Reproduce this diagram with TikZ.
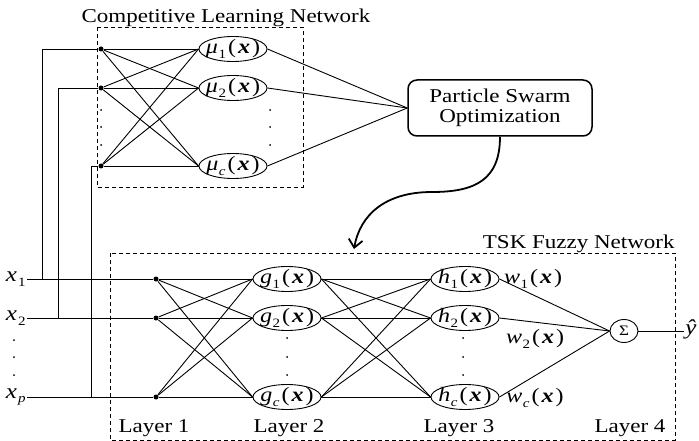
\documentclass[tikz,border=0pt]{standalone}
\usepackage{fontspec}
\setmainfont{Liberation Serif}
\usetikzlibrary{shapes.geometric,arrows.meta}
\newcommand\sq[1]{\scalebox{1}[0.85]{#1}}
\newcommand\sbs[1]{\raisebox{-0.45ex}{\fontsize{15}{15}\selectfont #1}}
\newcommand\fn[2]{\sq{\fontsize{24}{28}\selectfont\textit{#1}\kern0.5pt\sbs{#2}\kern2pt(\kern2pt\textbf{\textit{x}}\kern2pt)}}
\begin{document}
\begin{tikzpicture}[x=1pt,y=-1pt,font=\fontsize{23}{27}\selectfont,line width=0.9pt,
  unit/.style={ellipse,draw,minimum width=68pt,minimum height=25pt,inner xsep=-9pt,inner ysep=-5pt},
  sumnode/.style={ellipse,draw,minimum width=28pt,minimum height=23pt,inner sep=0pt},
  jn/.style={circle,fill,inner sep=0pt,minimum size=5pt},
  vdot/.style={circle,fill,inner sep=0pt,minimum size=2pt},
  frame/.style={draw,dashed,dash pattern=on 4pt off 3pt,line width=0.8pt},
  psobox/.style={draw,rounded corners=9pt,line width=1.5pt,minimum width=184pt,minimum height=56pt,inner sep=0pt},
  lbl/.style={inner sep=0pt}]
\useasboundingbox (0,0) rectangle (699,441);

% frames
\draw[frame] (97,27) rectangle (303,187);
\draw[frame] (110,253) rectangle (675,440);
\node[lbl,anchor=base] (tcln) at (226,23) {\sq{Competitive Learning Network}};
\node[lbl,anchor=base east] (ttsk) at (675,248) {\sq{TSK Fuzzy Network}};

% competitive learning network
\node[jn] (c1) at (101,49) {};
\node[jn] (c2) at (101,88) {};
\node[jn] (c3) at (101,166) {};
\node[unit] (m1) at (233,49) {\fn{μ}{1}};
\node[unit] (m2) at (233,88) {\fn{μ}{2}};
\node[unit] (m3) at (233,166) {\fn{μ}{\textit{c}}};
\foreach \y in {110,127,145}{\node[vdot] at (101,\y) {}; \node[vdot] at (270,\y) {};}
\foreach \a in {c1,c2,c3}{\foreach \b in {m1,m2,m3}{\draw (\a) -- (\b.west);}}

% PSO
\node[psobox] (pso) at (500,108) {\sq{\begin{tabular}{@{}c@{}}Particle Swarm\\[-3pt]Optimization\end{tabular}}};
\foreach \b in {m1,m2,m3}{\draw (\b.east) -- (pso.west);}
\coordinate (tip) at (354,249);
\draw[line width=1.8pt,-{Straight Barb[length=8pt,width=14pt]}] (pso.south) .. controls (500,180) and (475,192) .. (432,192) .. controls (385,192) and (360,215) .. (tip);

% inputs
\node[lbl,anchor=east] (x1) at (26,279) {\sq{\fontsize{25}{28}\selectfont\textit{x}\kern1pt\sbs{1}}};
\node[lbl,anchor=east] (x2) at (26,318) {\sq{\fontsize{25}{28}\selectfont\textit{x}\kern1pt\sbs{2}}};
\node[lbl,anchor=east] (xp) at (26,397) {\sq{\fontsize{25}{28}\selectfont\textit{x}\kern1pt\sbs{\textit{p}}}};
\foreach \y in {340,357,375}{\node[vdot] at (14,\y) {};}
\node[jn] (l1) at (156,279) {};
\node[jn] (l2) at (156,318) {};
\node[jn] (l3) at (156,397) {};
\coordinate (s1) at (27,279);
\coordinate (s2) at (27,318);
\coordinate (s3) at (27,397);
\draw (s1) -- (l1);
\draw (s2) -- (l2);
\draw (s3) -- (l3);
\coordinate (v1) at (42,279);
\coordinate (v2) at (58,318);
\coordinate (v3) at (91,397);
\draw (v1) |- (c1);
\draw (v2) |- (c2);
\draw (v3) |- (c3);

% layer 2
\node[unit] (g1) at (287,279) {\fn{g}{1}};
\node[unit] (g2) at (287,318) {\fn{g}{2}};
\node[unit] (g3) at (287,397) {\fn{g}{\textit{c}}};
\foreach \y in {338,357,375}{\node[vdot] at (287,\y) {};}
\foreach \a in {l1,l2,l3}{\foreach \b in {g1,g2,g3}{\draw (\a) -- (\b.west);}}

% layer 3
\node[unit] (h1) at (465,279) {\fn{h}{1}};
\node[unit] (h2) at (465,318) {\fn{h}{2}};
\node[unit] (h3) at (465,397) {\fn{h}{\textit{c}}};
\foreach \y in {338,357,375}{\node[vdot] at (463,\y) {};}
\foreach \a in {g1,g2,g3}{\foreach \b in {h1,h2,h3}{\draw (\a.east) -- (\b.west);}}

% layer 4
\node[sumnode] (sum) at (624,331) {\sq{\fontsize{17}{17}\selectfont Σ}};
\foreach \a in {h1,h2,h3}{\draw (\a.east) -- (sum.west);}
\coordinate (out) at (684,331);
\draw (sum.east) -- (out);
\node[lbl,anchor=west] (yhat) at (685,329) {\sq{\fontsize{25}{28}\selectfont\textit{ŷ}}};

\node[lbl] (w1) at (533,279) {\fn{w}{1}};
\node[lbl] (w2) at (535,339) {\fn{w}{2}};
\node[lbl] (w3) at (535,398) {\fn{w}{\textit{c}}};

% layer labels
\node[lbl,anchor=base] (L1) at (154,432) {\sq{Layer 1}};
\node[lbl,anchor=base] (L2) at (289,432) {\sq{Layer 2}};
\node[lbl,anchor=base] (L3) at (459,432) {\sq{Layer 3}};
\node[lbl,anchor=base] (L4) at (630,432) {\sq{Layer 4}};
\end{tikzpicture}
\end{document}
